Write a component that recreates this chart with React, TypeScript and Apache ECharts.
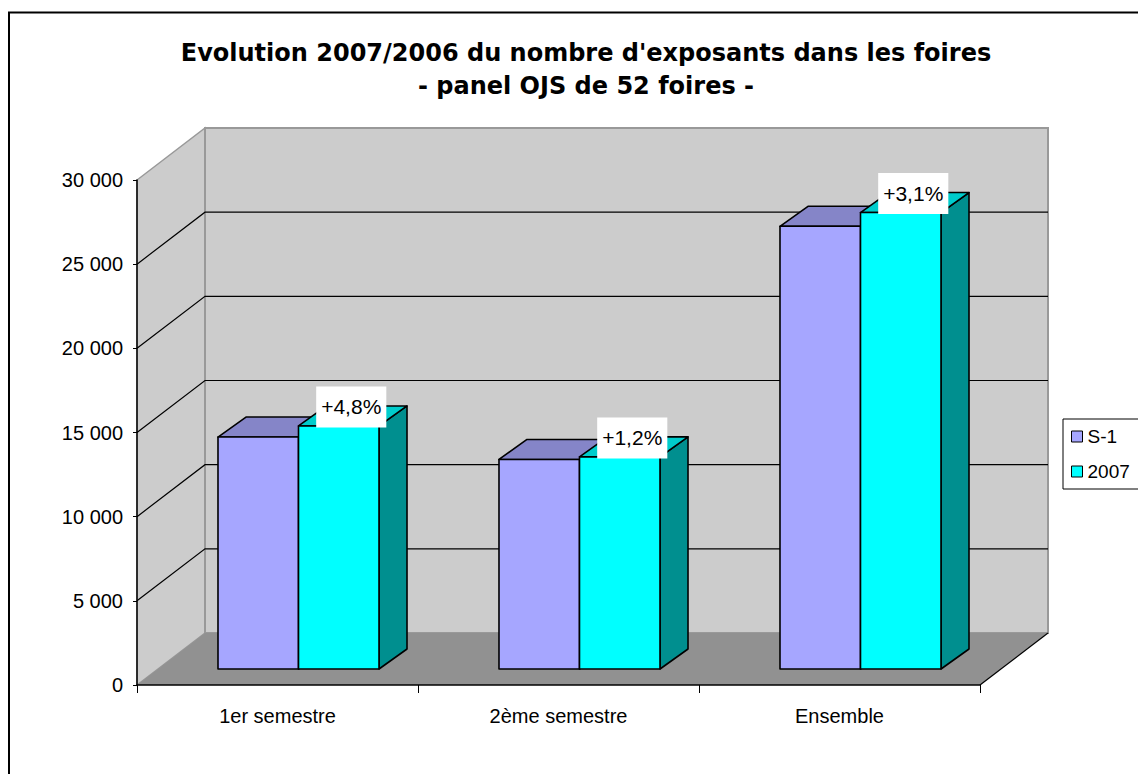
import React, { useEffect, useRef } from "react";
import * as echarts from "echarts";

const categories = ["1er semestre", "2ème semestre", "Ensemble"];
const seriesNames = ["S-1", "2007"];
const s1Values = [13780, 12450, 26300];
const y2007Values = [14440, 12600, 27115];
const growthLabels = ["+4,8%", "+1,2%", "+3,1%"];
const yTicks = [0, 5000, 10000, 15000, 20000, 25000, 30000];
const titleLines = [
  "Evolution 2007/2006 du nombre d'exposants dans les foires",
  "- panel OJS de 52 foires -",
];

// projection (pixels)
const DX = 68;
const DY = -52;
const FX = 21;
const FY = -16;
const BDX = 28;
const BDY = -20;
const BAR_FRAC = 0.2865;

const FONT = '"Liberation Sans", Arial, sans-serif';

const colors = [
  { front: "#a6a6ff", top: "#8585c8", side: "#6c6ca8" },
  { front: "#00ffff", top: "#00cccc", side: "#008f8f" },
];

function fmt(v: number) {
  return String(v).replace(/\B(?=(\d{3})+(?!\d))/g, " ");
}

export default function App() {
  const ref = useRef<HTMLDivElement>(null);
  useEffect(() => {
    if (!ref.current) return;
    const chart = echarts.init(ref.current, undefined, { renderer: "svg" });

    const wallsRender = (params: any, api: any) => {
      const cs = params.coordSys;
      const x0 = cs.x;
      const x1 = cs.x + cs.width;
      const yt = cs.y;
      const yb = cs.y + cs.height;
      const children: any[] = [];
      children.push({
        type: "polygon",
        shape: { points: [[x0, yb], [x0 + DX, yb + DY], [x0 + DX, yt + DY], [x0, yt]] },
        style: { fill: "#cccccc", stroke: "#999999", lineWidth: 1.5 },
      });
      children.push({
        type: "rect",
        shape: { x: x0 + DX, y: yt + DY, width: cs.width, height: cs.height },
        style: { fill: "#cccccc", stroke: "#999999", lineWidth: 2 },
      });
      children.push({
        type: "polygon",
        shape: { points: [[x0, yb], [x1, yb], [x1 + DX, yb + DY], [x0 + DX, yb + DY]] },
        style: { fill: "#919191", stroke: "none" },
      });
      children.push({
        type: "line",
        shape: { x1: x1, y1: yb, x2: x1 + DX, y2: yb + DY },
        style: { stroke: "#000", lineWidth: 1.2 },
      });
      const maxT = yTicks[yTicks.length - 1];
      yTicks.forEach((t) => {
        if (t === 0 || t === maxT) return;
        const y = api.coord([0, t])[1];
        children.push({
          type: "polyline",
          shape: { points: [[x0, y], [x0 + DX, y + DY], [x1 + DX, y + DY]] },
          style: { stroke: "#000", lineWidth: 1.2, fill: "none" },
        });
      });
      return { type: "group", children };
    };

    const barRender = (sIdx: number) => (params: any, api: any) => {
      const c = api.value(0);
      const v = api.value(1);
      const base = api.coord([c, 0]);
      const topP = api.coord([c, v]);
      const band = api.size([1, 0])[0];
      const bw = band * BAR_FRAC;
      const center = base[0] + FX;
      const xl = sIdx === 0 ? center - bw : center;
      const ty = topP[1] + FY;
      const by = base[1] + FY;
      const col = colors[sIdx];
      const stroke = { stroke: "#000", lineWidth: 1.6, lineJoin: "round" };
      const children: any[] = [
        {
          type: "polygon",
          shape: { points: [[xl + bw, ty], [xl + bw, by], [xl + bw + BDX, by + BDY], [xl + bw + BDX, ty + BDY]] },
          style: { fill: col.side, ...stroke },
        },
        {
          type: "polygon",
          shape: { points: [[xl, ty], [xl + bw, ty], [xl + bw + BDX, ty + BDY], [xl + BDX, ty + BDY]] },
          style: { fill: col.top, ...stroke },
        },
        {
          type: "rect",
          shape: { x: xl, y: ty, width: bw, height: by - ty },
          style: { fill: col.front, ...stroke },
        },
      ];
      if (sIdx === 1) {
        const cx = xl + bw / 2 + BDX / 2 - 1.5;
        const cy = ty + BDY / 2 - 9;
        children.push({
          type: "text",
          z2: 100,
          style: {
            text: growthLabels[params.dataIndex],
            x: cx,
            y: cy,
            align: "center",
            verticalAlign: "middle",
            fill: "#000",
            font: `21px ${FONT}`,
            backgroundColor: "#ffffff",
            padding: [10, 5],
          },
        });
      }
      return { type: "group", children };
    };

    const option: any = {
      animation: false,
      backgroundColor: "#ffffff",
      title: {
        text: titleLines.join("\n"),
        left: 586,
        top: 36,
        textAlign: "center",
        padding: 0,
        textStyle: {
          fontFamily: '"DejaVu Sans", sans-serif',
          fontWeight: "bold",
          fontSize: 24,
          lineHeight: 33,
          color: "#000",
        },
      },
      graphic: [
        {
          type: "rect",
          shape: { x: 9, y: 12.5, width: 1200, height: 800 },
          style: { fill: "none", stroke: "#000", lineWidth: 2 },
          z: 100,
        },
      ],
      legend: {
        orient: "vertical",
        left: 1063,
        top: 419,
        itemWidth: 11,
        itemHeight: 11,
        itemGap: 16,
        padding: [8, 30, 8, 8],
        borderColor: "#000",
        borderWidth: 1,
        backgroundColor: "#fff",
        textStyle: { fontSize: 19, fontFamily: FONT, color: "#000" },
        data: seriesNames.map((n, i) => ({
          name: n,
          icon: "rect",
          itemStyle: { color: colors[i].front, borderColor: "#000", borderWidth: 1 },
        })),
      },
      grid: { left: 137, right: 158, top: 180, bottom: 89 },
      xAxis: {
        type: "category",
        data: categories,
        boundaryGap: true,
        z: 10,
        axisLine: { show: true, lineStyle: { color: "#000", width: 1.5 } },
        axisTick: { show: true, length: 8, alignWithLabel: false, lineStyle: { color: "#000", width: 1 } },
        axisLabel: { margin: 21, fontSize: 20, fontFamily: FONT, color: "#000" },
        splitLine: { show: false },
      },
      yAxis: {
        type: "value",
        min: yTicks[0],
        max: yTicks[yTicks.length - 1],
        interval: yTicks[1] - yTicks[0],
        z: 10,
        axisLine: { show: true, lineStyle: { color: "#000", width: 1.5 } },
        axisTick: { show: true, length: 4, lineStyle: { color: "#000", width: 1 } },
        axisLabel: { margin: 14, fontSize: 20, fontFamily: FONT, color: "#000", formatter: (v: number) => fmt(v) },
        splitLine: { show: false },
      },
      series: [
        {
          type: "custom",
          name: "walls",
          renderItem: wallsRender,
          data: [[0, 0]],
          z: 1,
          silent: true,
          tooltip: { show: false },
        },
        {
          type: "custom",
          name: seriesNames[0],
          renderItem: barRender(0),
          itemStyle: { color: colors[0].front },
          data: s1Values.map((v, i) => [i, v]),
          z: 2,
        },
        {
          type: "custom",
          name: seriesNames[1],
          renderItem: barRender(1),
          itemStyle: { color: colors[1].front },
          data: y2007Values.map((v, i) => [i, v]),
          z: 3,
        },
      ],
    };
    chart.setOption(option);
    return () => chart.dispose();
  }, []);
  return (
    <div
      ref={ref}
      style={{ position: "fixed", left: 0, top: 0, width: 1138, height: 774, background: "#fff" }}
    />
  );
}
